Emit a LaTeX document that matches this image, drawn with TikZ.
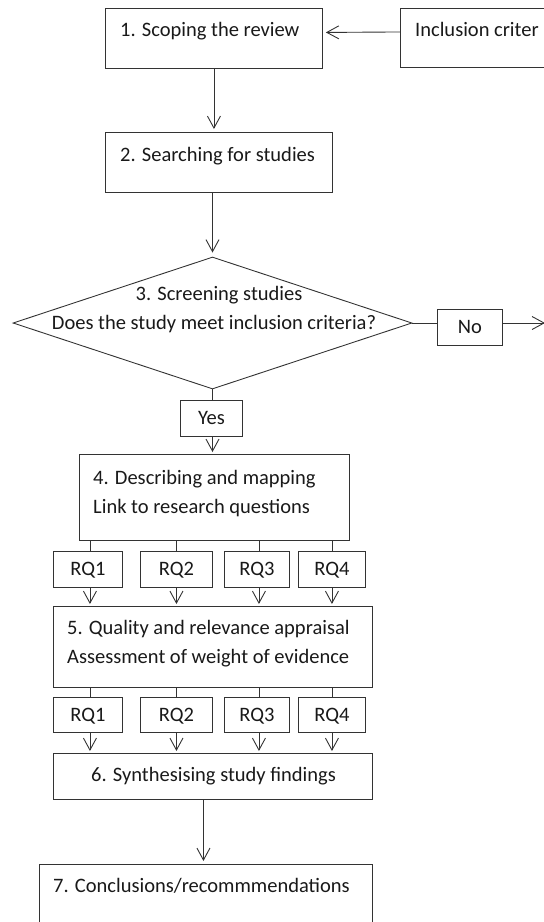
\documentclass[tikz,border=0pt]{standalone}
\usepackage{fontspec}
\setmainfont{Carlito}
\usetikzlibrary{arrows.meta,positioning,shapes.geometric}
\tikzset{>={Straight Barb[length=12pt,width=13pt]}}

\begin{document}
\begin{tikzpicture}[x=1pt,y=-1pt,
  box/.style={draw=black!80,line width=0.9pt,rectangle,anchor=north west,inner sep=0pt},
  rq/.style={box,minimum height=36,text height=13pt,text depth=0pt,text=black!90,font=\fontsize{20.5}{24}\selectfont},
  txt/.style={anchor=base west,inner sep=0pt,text=black!90,font=\fontsize{20.5}{24}\selectfont},
  con/.style={draw=black!80,line width=0.9pt}]
              \clip (0,0) rectangle (544,922);

              \node[box,minimum width=217,minimum height=60] (s1) at (105,8) {};
              \node[box,minimum width=170,minimum height=59] (inc) at (400,8) {};
              \node[box,minimum width=227,minimum height=60] (s2) at (105,132) {};
              \node[draw=black!80,line width=0.9pt,diamond,minimum width=399,minimum height=132,inner sep=0pt] (s3) at (212.5,323) {};
              \node[rq,minimum width=65] (no) at (437,309) {No};
              \node[rq,minimum width=62] (yes) at (180,400) {Yes};
              \node[box,minimum width=270,minimum height=86] (s4) at (79,454) {};
              \node[rq,minimum width=69] (rqa1) at (53,551) {RQ1};
              \node[rq,minimum width=72] (rqa2) at (140,551) {RQ2};
              \node[rq,minimum width=65] (rqa3) at (224,551) {RQ3};
              \node[rq,minimum width=67] (rqa4) at (298,551) {RQ4};
              \node[box,minimum width=319,minimum height=81] (s5) at (53,606) {};
              \node[rq,minimum width=69,minimum height=35] (rqb1) at (53,697) {RQ1};
              \node[rq,minimum width=72,minimum height=35] (rqb2) at (140,697) {RQ2};
              \node[rq,minimum width=65,minimum height=35] (rqb3) at (224,697) {RQ3};
              \node[rq,minimum width=67,minimum height=35] (rqb4) at (298,697) {RQ4};
              \node[box,minimum width=319,minimum height=46] (s6) at (53,753) {};
              \node[box,minimum width=333,minimum height=80] (s7) at (39,864) {};
              \coordinate (noend) at (545,323);

              \node[txt] (t1) at (120,36) {1. Scoping the review};
              \node[txt] (tinc) at (415,36) {Inclusion criter};
              \node[txt] (t2) at (120,161) {2. Searching for studies};
              \node[txt,anchor=base] (t3a) at (219,300) {3. Screening studies};
              \node[txt,anchor=base] (t3b) at (214,329) {Does the study meet inclusion criteria?};
              \node[txt] (t4a) at (93,484) {4. Describing and mapping};
              \node[txt] (t4b) at (93,513) {Link to research questions};
              \node[txt] (t5a) at (67,634) {5. Quality and relevance appraisal};
              \node[txt] (t5b) at (67,663) {Assessment of weight of evidence};
              \node[txt] (t6) at (91,781) {6. Synthesising study findings};
              \node[txt] (t7) at (53,892) {7. Conclusions/recommmendations};

              \draw[con,->,shorten >=3pt] ([yshift=6pt]inc.west) -- ([yshift=6pt]s1.east);
              \draw[con,->,shorten >=3pt] (s1.south) -- (s1.south |- s2.north);
              \draw[con,->,shorten >=4pt] (s3.north |- s2.south) -- (s3.north);
              \draw[con] (s3.east) -- (s3.east -| no.west);
              \draw[con,->] (no.east |- s3.east) -- (noend);
              \draw[con] (s3.south) -- (s3.south |- yes.north);
              \draw[con,->,shorten >=2pt] (s3.south |- yes.south) -- (s3.south |- s4.north);
              \draw[con] ([xshift=2pt]rqa1.north |- s4.south) -- ([xshift=2pt]rqa1.north);
              \draw[con] (rqa2.north |- s4.south) -- (rqa2.north);
              \draw[con] ([xshift=2pt]rqa3.north |- s4.south) -- ([xshift=2pt]rqa3.north);
              \draw[con] (rqa4.north |- s4.south) -- (rqa4.north);
              \draw[con,->,shorten >=2pt] ([xshift=2pt]rqa1.south) -- ([xshift=2pt]rqa1.south |- s5.north);
              \draw[con,->,shorten >=2pt] (rqa2.south) -- (rqa2.south |- s5.north);
              \draw[con,->,shorten >=2pt] ([xshift=2pt]rqa3.south) -- ([xshift=2pt]rqa3.south |- s5.north);
              \draw[con,->,shorten >=2pt] (rqa4.south) -- (rqa4.south |- s5.north);
              \draw[con] ([xshift=2pt]rqb1.north |- s5.south) -- ([xshift=2pt]rqb1.north);
              \draw[con] (rqb2.north |- s5.south) -- (rqb2.north);
              \draw[con] ([xshift=2pt]rqb3.north |- s5.south) -- ([xshift=2pt]rqb3.north);
              \draw[con] (rqb4.north |- s5.south) -- (rqb4.north);
              \draw[con,->,shorten >=2pt] ([xshift=2pt]rqb1.south) -- ([xshift=2pt]rqb1.south |- s6.north);
              \draw[con,->,shorten >=2pt] (rqb2.south) -- (rqb2.south |- s6.north);
              \draw[con,->,shorten >=2pt] ([xshift=2pt]rqb3.south) -- ([xshift=2pt]rqb3.south |- s6.north);
              \draw[con,->,shorten >=2pt] (rqb4.south) -- (rqb4.south |- s6.north);
              \draw[con,->,shorten >=3pt] ([xshift=-9.5pt]s6.south) -- ([xshift=-9.5pt]s6.south |- s7.north);
             \end{tikzpicture}
\end{document}
